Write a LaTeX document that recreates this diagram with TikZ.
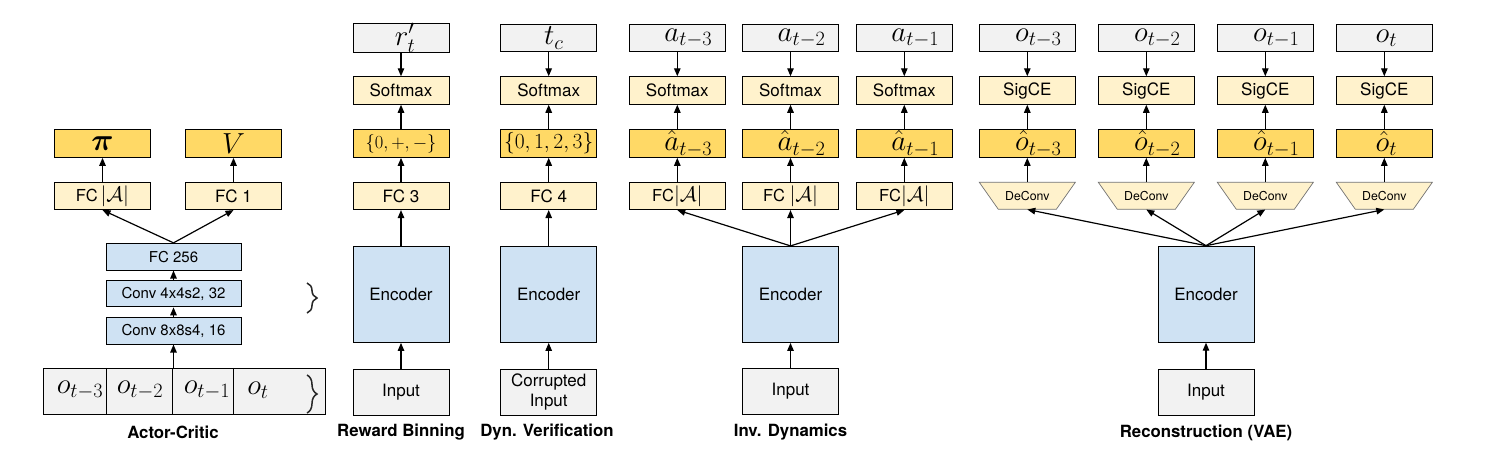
\RequirePackage{fix-cm}
\documentclass[tikz,border=0pt]{standalone}
\usepackage{bm}
\usepackage{fontspec}
\setmainfont{TeX Gyre Heros}
\usetikzlibrary{arrows.meta,decorations.pathreplacing}
\definecolor{gfill}{HTML}{F2F2F2}
\definecolor{pfill}{HTML}{FFF2CC}
\definecolor{ofill}{HTML}{FFD966}
\definecolor{bfill}{HTML}{CFE2F3}
\tikzset{
  box/.style={draw, line width=1pt, inner sep=0pt, minimum width=96pt, minimum height=27.5pt},
  gbox/.style={box, fill=gfill},
  pbox/.style={box, fill=pfill},
  obox/.style={box, fill=ofill},
  bbox/.style={box, fill=bfill},
  encbox/.style={bbox, minimum width=96pt, minimum height=96pt},
  inbox/.style={gbox, minimum height=46pt},
  acbox/.style={bbox, minimum width=135pt, minimum height=26.7pt, font=\fontsize{15}{16}\selectfont},
  mt/.style={font=\fontsize{29}{29}\selectfont},
  st/.style={font=\fontsize{17}{20}\selectfont},
  fcA/.style={font=\fontsize{16.5}{16.5}\selectfont},
  lbl/.style={font=\fontsize{16.8}{18}\selectfont\bfseries},
  dcnode/.style={inner sep=0pt, minimum width=96pt, minimum height=27pt, font=\fontsize{12.3}{12.3}\selectfont},
  trap/.style={fill=pfill, draw=black!55, line width=0.7pt},
  arr/.style={-{Triangle[length=8pt,width=6.5pt]}, line width=1.2pt},
  brc/.style={decorate, decoration={brace, amplitude=10pt}, line width=1.5pt, black!85}
}
\newcommand{\calA}{{\fontsize{21}{21}\selectfont$|\mathcal{A}|$}}
\begin{document}
\begin{tikzpicture}[x=1pt,y=-1pt]
\useasboundingbox[fill=white] (0,0) rectangle (1490,459);

% ---------------- Actor-Critic ----------------
\node[obox, font=\fontsize{31}{31}\selectfont] (pi) at (102.5,143.6) {$\bm{\pi}$};
\node[obox, font=\fontsize{29}{29}\selectfont] (V) at (233.5,143.6) {$V$};
\node[pbox, fcA] (fca) at (102.5,195.8) {FC\,\calA};
\node[pbox, st] (fc1) at (233.5,195.8) {FC 1};
\node[acbox] (fc256) at (173.5,256.7) {FC 256};
\node[acbox] (conv4) at (173.5,293.5) {Conv 4x4s2, 32};
\node[acbox] (conv8) at (173.5,330.7) {Conv 8x8s4, 16};
\node[gbox, minimum width=282.4pt, minimum height=45.7pt] (obs) at (184.5,391.2) {};
\draw[line width=1pt] ([xshift=64pt]obs.north west) -- ([xshift=64pt]obs.south west);
\draw[line width=1pt] ([xshift=129.4pt]obs.north west) -- ([xshift=129.4pt]obs.south west);
\draw[line width=1pt] ([xshift=190.7pt]obs.north west) -- ([xshift=190.7pt]obs.south west);
\node[mt] (obs3) at (80,390) {$o_{t-3}$};
\node[mt] (obs2) at (140,390) {$o_{t-2}$};
\node[mt] (obs1) at (207,390) {$o_{t-1}$};
\node[mt] (obs0) at (258,390) {$o_{t}$};
\draw[brc] (307,283) -- (307,313);
\draw[brc] (307,375) -- (307,413);

\draw[arr] (fca) -- (pi);
\draw[arr] (fc1) -- (V);
\draw[arr] (fc256.north) -- (fca.south);
\draw[arr] (fc256.north) -- (fc1.south);
\draw[arr] (conv4) -- (fc256);
\draw[arr] (conv8) -- (conv4);
\draw[arr] (conv8.south |- obs.north) -- (conv8.south);
\node[lbl] (lac) at (173,432.5) {Actor-Critic};

% ---------------- Reward Binning ----------------
\node[gbox, mt] (rt) at (401,38) {\hspace*{8pt}$r'_t$};
\node[pbox, st] (sm1) at (401,90.5) {Softmax};
\node[obox, font=\fontsize{18.5}{18.5}\selectfont] (set1) at (401,143.6) {$\{0,+,-\}$};
\node[pbox, st] (fc3) at (401,195.8) {FC 3};
\node[encbox, st] (enc1) at (401,294.4) {Encoder};
\node[inbox, st] (in1) at (401,392) {Input};
\draw[arr] (rt) -- (sm1);
\draw[arr] (set1) -- (sm1);
\draw[arr] (fc3) -- (set1);
\draw[arr] (enc1) -- (fc3);
\draw[arr] (in1) -- (enc1);
\node[lbl] (lrb) at (401,432.5) {Reward Binning};

% ---------------- Dyn. Verification ----------------
\node[gbox, mt] (tc) at (548.7,38) {\hspace*{10pt}$t_c$};
\node[pbox, st] (sm2) at (548.7,90.5) {Softmax};
\node[obox, font=\fontsize{21.5}{21.5}\selectfont] (set2) at (548.7,143.6) {$\{0,1,2,3\}$};
\node[pbox, st] (fc4) at (548.7,195.8) {FC 4};
\node[encbox, st] (enc2) at (548.7,294.4) {Encoder};
\node[inbox, st, align=center] (in2) at (548.7,392) {Corrupted\\Input};
\draw[arr] (tc) -- (sm2);
\draw[arr] (set2) -- (sm2);
\draw[arr] (fc4) -- (set2);
\draw[arr] (enc2) -- (fc4);
\draw[arr] (in2) -- (enc2);
\node[lbl] (ldv) at (547,432.5) {Dyn. Verification};

% ---------------- Inv. Dynamics ----------------
\node[gbox, mt] (a3) at (677.3,38) {\hspace*{22pt}$a_{t-3}$};
\node[gbox, mt] (a2) at (790.5,38) {\hspace*{22pt}$a_{t-2}$};
\node[gbox, mt] (a1) at (904.3,38) {\hspace*{22pt}$a_{t-1}$};
\node[pbox, st] (sm3) at (677.3,90.5) {Softmax};
\node[pbox, st] (sm4) at (790.5,90.5) {Softmax};
\node[pbox, st] (sm5) at (904.3,90.5) {Softmax};
\node[obox, mt] (ah3) at (677.3,143.6) {\hspace*{22pt}$\hat{a}_{t-3}$};
\node[obox, mt] (ah2) at (790.5,143.6) {\hspace*{22pt}$\hat{a}_{t-2}$};
\node[obox, mt] (ah1) at (904.3,143.6) {\hspace*{22pt}$\hat{a}_{t-1}$};
\node[pbox, fcA] (fa3) at (677.3,195.8) {FC\calA};
\node[pbox, fcA] (fa2) at (790.5,195.8) {FC \calA};
\node[pbox, fcA] (fa1) at (904.3,195.8) {FC\calA};
\node[encbox, st] (enc3) at (790.5,294.4) {Encoder};
\node[inbox, st] (in3) at (790.5,391.3) {Input};
\foreach \i/\j in {3/3,2/4,1/5}{
  \draw[arr] (a\i) -- (sm\j);
  \draw[arr] (ah\i) -- (sm\j);
  \draw[arr] (fa\i) -- (ah\i);
  \draw[arr] (enc3.north) -- (fa\i.south);
}
\draw[arr] (in3) -- (enc3);
\node[lbl] (lid) at (790.5,432.5) {Inv. Dynamics};

% ---------------- Reconstruction (VAE) ----------------
\node[gbox, mt] (o3) at (1027.3,38) {\hspace*{22pt}$o_{t-3}$};
\node[gbox, mt] (o2) at (1146.3,38) {\hspace*{22pt}$o_{t-2}$};
\node[gbox, mt] (o1) at (1265.3,38) {\hspace*{22pt}$o_{t-1}$};
\node[gbox, mt] (o0) at (1384.3,38) {\hspace*{4pt}$o_{t}$};
\node[pbox, st] (sg3) at (1027.3,90.5) {SigCE};
\node[pbox, st] (sg2) at (1146.3,90.5) {SigCE};
\node[pbox, st] (sg1) at (1265.3,90.5) {SigCE};
\node[pbox, st] (sg0) at (1384.3,90.5) {SigCE};
\node[obox, mt] (oh3) at (1027.3,143.6) {\hspace*{22pt}$\hat{o}_{t-3}$};
\node[obox, mt] (oh2) at (1146.3,143.6) {\hspace*{22pt}$\hat{o}_{t-2}$};
\node[obox, mt] (oh1) at (1265.3,143.6) {\hspace*{22pt}$\hat{o}_{t-1}$};
\node[obox, mt] (oh0) at (1384.3,143.6) {\hspace*{4pt}$\hat{o}_{t}$};
\foreach \i in {3,2,1,0}{
  \path (oh\i) ++(0,52.2) coordinate (dcpos\i);
  \fill[trap] ([xshift=-48pt]dcpos\i) ++(0,-13.5) -- ++(96,0) -- ++(-19,27) -- ++(-58,0) -- cycle;
  \node[dcnode] (dc\i) at (dcpos\i) {DeConv};
}
\node[encbox, st] (enc4) at (1206,294.2) {Encoder};
\node[inbox, st] (in4) at (1206,392) {Input};
\foreach \i in {3,2,1,0}{
  \draw[arr] (o\i) -- (sg\i);
  \draw[arr] (oh\i) -- (sg\i);
  \draw[arr] (dc\i) -- (oh\i);
  \draw[arr] (enc4.north) -- (dc\i.south);
}
\draw[arr] (in4) -- (enc4);
\node[lbl] (lvae) at (1206,432.5) {Reconstruction (VAE)};
\end{tikzpicture}
\end{document}
